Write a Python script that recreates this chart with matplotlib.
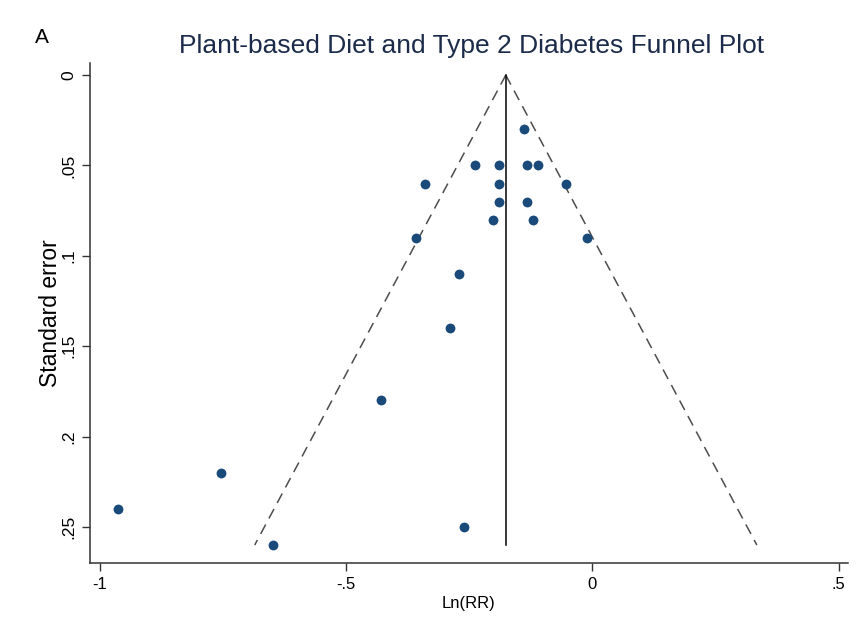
import numpy as np
import matplotlib.pyplot as plt

plt.rcParams["font.family"] = ["Liberation Sans", "DejaVu Sans"]

# study estimates: log relative risk and its standard error
ln_rr = [-0.140, -0.239, -0.190, -0.132, -0.111, -0.340, -0.190, -0.053,
         -0.190, -0.132, -0.202, -0.121, -0.358, -0.012, -0.271, -0.289,
         -0.429, -0.755, -0.964, -0.261, -0.648]
se = [0.030, 0.050, 0.050, 0.050, 0.050, 0.060, 0.060, 0.060,
      0.070, 0.070, 0.080, 0.080, 0.090, 0.090, 0.110, 0.140,
      0.180, 0.220, 0.240, 0.250, 0.260]

pooled = -0.176      # fixed-effect pooled ln(RR)
se_max = 0.26

xticks = [-1, -0.5, 0, 0.5]
xtick_labels = ["-1", "-.5", "0", ".5"]
yticks = [0, 0.05, 0.1, 0.15, 0.2, 0.25]
ytick_labels = ["0", ".05", ".1", ".15", ".2", ".25"]

fig = plt.figure(figsize=(8.65, 6.32), dpi=100)
ax = fig.add_axes([0.104, 0.109, 0.876, 0.791])

# pseudo 95% confidence limits
se_line = np.array([0, se_max])
ax.plot(pooled - 1.96 * se_line, se_line, color="#4d4d4d", lw=1.1,
        ls=(0, (7, 4.5)))
ax.plot(pooled + 1.96 * se_line, se_line, color="#4d4d4d", lw=1.1,
        ls=(0, (7, 4.5)))
ax.plot([pooled, pooled], [0, se_max], color="black", lw=1.1)

ax.scatter(ln_rr, se, s=50, color="#1a4a7a", zorder=3, linewidths=0)

ax.set_xlim(-1.02, 0.518)
ax.set_ylim(0.270, -0.0066)

ax.set_xticks(xticks)
ax.set_xticklabels(xtick_labels, fontsize=12)
ax.set_yticks(yticks)
ax.set_yticklabels(ytick_labels, fontsize=12.5, rotation=90, va="center")
ax.tick_params(direction="out", length=6, width=1, color="#333333", pad=4)

for side in ["top", "right"]:
    ax.spines[side].set_visible(False)
for side in ["left", "bottom"]:
    ax.spines[side].set_color("#333333")
    ax.spines[side].set_linewidth(1.1)

ax.set_xlabel("Ln(RR)", fontsize=12, labelpad=3)
ax.set_ylabel("Standard error", fontsize=16.5, labelpad=-1)

fig.text(0.545, 0.927, "Plant-based Diet and Type 2 Diabetes Funnel Plot",
         ha="center", va="center", fontsize=19, color="#1c2b4a")
fig.text(0.040, 0.940, "A", ha="left", va="center", fontsize=15)

fig.savefig("out.png", dpi=100, facecolor="white")
